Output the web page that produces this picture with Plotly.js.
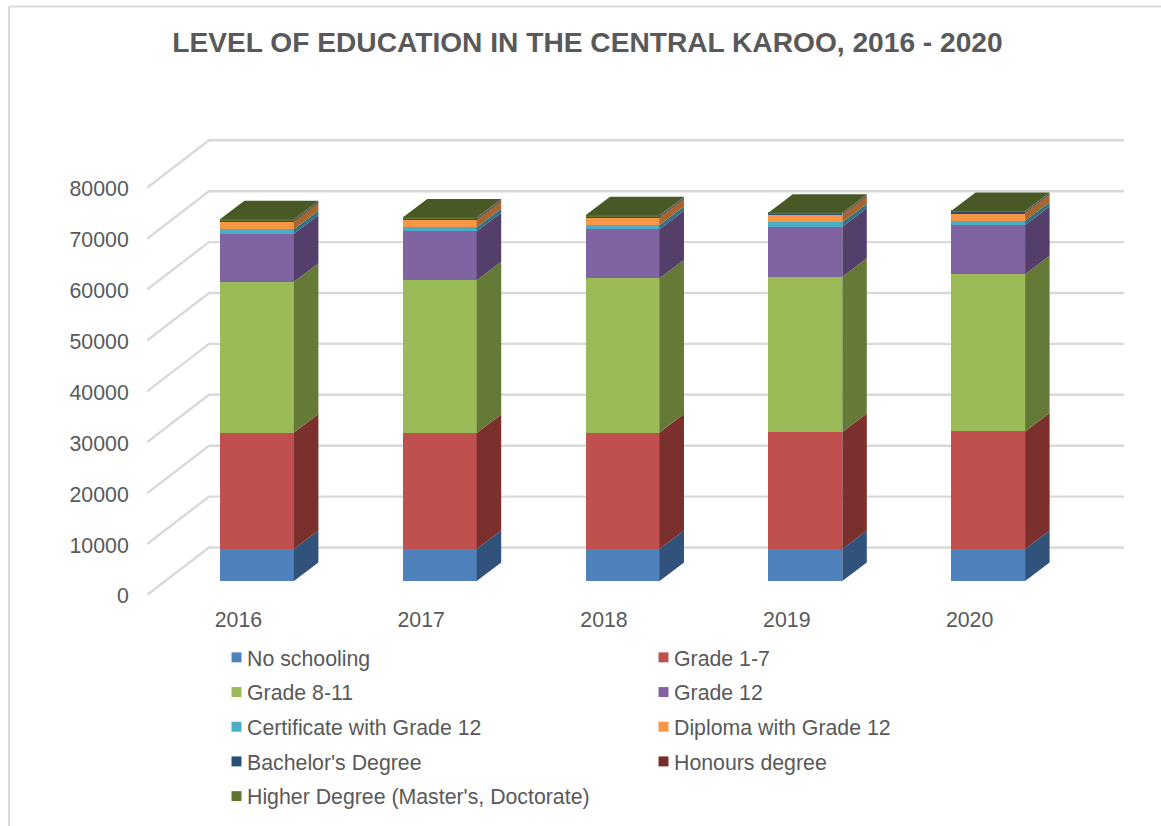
<!DOCTYPE html>
<html><head><meta charset="utf-8">
<script src="https://cdn.plot.ly/plotly-3.0.1.min.js"></script>
<style>html,body{margin:0;padding:0;background:#fff}</style></head>
<body><div id="chart" style="width:1161px;height:826px"></div>
<script>
const years = [2016, 2017, 2018, 2019, 2020];
const yTicks = [0, 10000, 20000, 30000, 40000, 50000, 60000, 70000, 80000];
const noSchooling = [6285, 6285, 6285, 6285, 6285];
const grade1to7 = [22890, 22800, 22890, 22990, 23090];
const grade8to11 = [29630, 30000, 30290, 30510, 30880];
const grade12 = [9430, 9630, 9630, 9820, 9690];
const certificate = [860, 790, 850, 860, 850];
const diploma = [1470, 1470, 1470, 1470, 1500];
const bachelor = [220, 190, 190, 180, 200];
const honours = [90, 80, 80, 80, 70];
const higher = [180, 160, 160, 150, 130];

const seriesNames = ["No schooling", "Grade 1-7", "Grade 8-11", "Grade 12", "Certificate with Grade 12",
  "Diploma with Grade 12", "Bachelor's Degree", "Honours degree", "Higher Degree (Master's, Doctorate)"];
const seriesValues = [noSchooling, grade1to7, grade8to11, grade12, certificate, diploma, bachelor, honours, higher];
const frontColors = ["#4F81BD", "#C0504D", "#9BBB59", "#8064A2", "#4BACC6", "#F79646", "#2C4D75", "#772C2A", "#5F7530"];
const sideColors = ["#31527B", "#7B302E", "#667A37", "#533F69", "#2F7385", "#A8652E", "#1E3450", "#4F1E1C", "#3F4E20"];
const topColor = "#495925";

// Pixel geometry of the pseudo-3D box
const W = 1161, H = 826;
const plotL = 147, plotR = 1124, plotT = 130, plotB = 595;
const pxPerYear = 182.8, pxPerUnit = 0.00509;
const wallDx = 62 / pxPerYear, wallDy = 47.5 / pxPerUnit;
const barLeftShift = 18.5, barUpShift = 14;
const sideDx = 24.5 / pxPerYear, sideDy = 18.5 / pxPerUnit, barW = 74 / pxPerYear;

const xFront = [years[0] - 0.5, years[0] - 0.5 + (plotR - plotL) / pxPerYear];
const yFront = [0, (plotB - plotT) / pxPerUnit];
const xBar = [xFront[0] - barLeftShift / pxPerYear, xFront[1] - barLeftShift / pxPerYear];
const yBar = [yFront[0] - barUpShift / pxPerUnit, yFront[1] - barUpShift / pxPerUnit];
const fx = px => px / W;
const fy = py => 1 - py / H;
const xDomain = [fx(plotL), fx(plotR)], yDomain = [fy(plotB), fy(plotT)];

const traces = [];
// back wall grid and floor-wall returns
const gx = [], gy = [];
yTicks.forEach(v => {
  gx.push(xFront[0], xFront[0] + wallDx, xFront[1], null);
  gy.push(v, v + wallDy, v + wallDy, null);
});
traces.push({type: "scatter", mode: "lines", x: gx, y: gy, xaxis: "x", yaxis: "y", showlegend: false,
  hoverinfo: "skip", line: {color: "#D9D9D9", width: 2.4}});

// stacked front faces
seriesNames.forEach((name, s) => {
  const inRight = s % 2 === 1;
  traces.push({type: "bar", name, x: years, y: seriesValues[s], xaxis: "x2", yaxis: "y2", width: barW,
    marker: {color: frontColors[s], line: {width: 0}},
    legend: inRight ? "legend2" : "legend", legendgroup: "g" + s, hoverinfo: "skip"});
});
// side faces
const cum = years.map(() => 0);
seriesValues.forEach((vals, s) => {
  const sx = [], sy = [];
  years.forEach((yr, i) => {
    const r = yr + barW / 2, a = cum[i], b = cum[i] + vals[i];
    sx.push(r, r + sideDx, r + sideDx, r, r, null);
    sy.push(a, a + sideDy, b + sideDy, b, a, null);
    cum[i] = b;
  });
  traces.push({type: "scatter", mode: "lines", x: sx, y: sy, xaxis: "x2", yaxis: "y2", fill: "toself",
    fillcolor: sideColors[s], line: {width: 0, color: sideColors[s], simplify: false}, showlegend: false, hoverinfo: "skip"});
});
// top face
const tx = [], ty = [];
years.forEach((yr, i) => {
  const l = yr - barW / 2, r = yr + barW / 2, t = cum[i];
  tx.push(l, r, r + sideDx, l + sideDx, l, null);
  ty.push(t, t, t + sideDy, t + sideDy, t, null);
});
traces.push({type: "scatter", mode: "lines", x: tx, y: ty, xaxis: "x2", yaxis: "y2", fill: "toself",
  fillcolor: topColor, line: {width: 0, color: topColor, simplify: false}, showlegend: false, hoverinfo: "skip"});

const txt = {family: "Liberation Sans, Arial, sans-serif", color: "#595959"};
const legendBase = {orientation: "v", xanchor: "left", yanchor: "top", tracegroupgap: 4, traceorder: "grouped",
  bgcolor: "rgba(0,0,0,0)", font: Object.assign({size: 21.3}, txt), itemclick: false, itemdoubleclick: false};

const layout = {
  width: W, height: H, autosize: false, barmode: "stack", hovermode: false,
  paper_bgcolor: "#fff", plot_bgcolor: "rgba(0,0,0,0)", showlegend: true,
  margin: {l: 0, r: 0, t: 0, b: 0, pad: 0},
  title: {text: "LEVEL OF EDUCATION IN THE CENTRAL KAROO, 2016 - 2020", xref: "container", yref: "container",
    x: 587.5 / W, xanchor: "center", y: 1 - 42 / H, yanchor: "middle",
    font: Object.assign({size: 28.15, weight: 700}, txt)},
  xaxis: {type: "linear", domain: xDomain, range: xFront, tickmode: "array", tickvals: years, ticktext: years.map(String),
    showgrid: false, zeroline: false, showline: false, ticks: "outside", ticklen: 5, tickcolor: "rgba(0,0,0,0)",
    tickfont: Object.assign({size: 21.3}, txt)},
  yaxis: {type: "linear", domain: yDomain, range: yFront, tickmode: "array", tickvals: yTicks, ticktext: yTicks.map(String),
    showgrid: false, zeroline: false, showline: false, ticks: "outside", ticklen: 13, tickcolor: "rgba(0,0,0,0)",
    ticklabelshift: 1, tickfont: Object.assign({size: 21.3}, txt)},
  xaxis2: {type: "linear", domain: xDomain, range: xBar, overlaying: "x", anchor: "y2", visible: false},
  yaxis2: {type: "linear", domain: yDomain, range: yBar, overlaying: "y", anchor: "x2", visible: false},
  legend: Object.assign({x: fx(207), y: fy(637)}, legendBase),
  legend2: Object.assign({x: fx(634), y: fy(637)}, legendBase),
  shapes: [
    {type: "line", xref: "paper", yref: "paper", x0: fx(9), x1: fx(9), y0: fy(6.5), y1: 0, line: {color: "#D9D9D9", width: 2}},
    {type: "line", xref: "paper", yref: "paper", x0: fx(9), x1: 1, y0: fy(6.5), y1: fy(6.5), line: {color: "#D9D9D9", width: 2}}
  ]
};
Plotly.newPlot("chart", traces, layout, {displayModeBar: false, responsive: false}).then(() => {
  // legend keys in the reference are smaller and sit right next to their labels
  document.querySelectorAll(".infolayer .legendpoints path").forEach(p => {
    p.setAttribute("transform", "translate(29.5,0) scale(0.83)");
  });
});
</script></body></html>
